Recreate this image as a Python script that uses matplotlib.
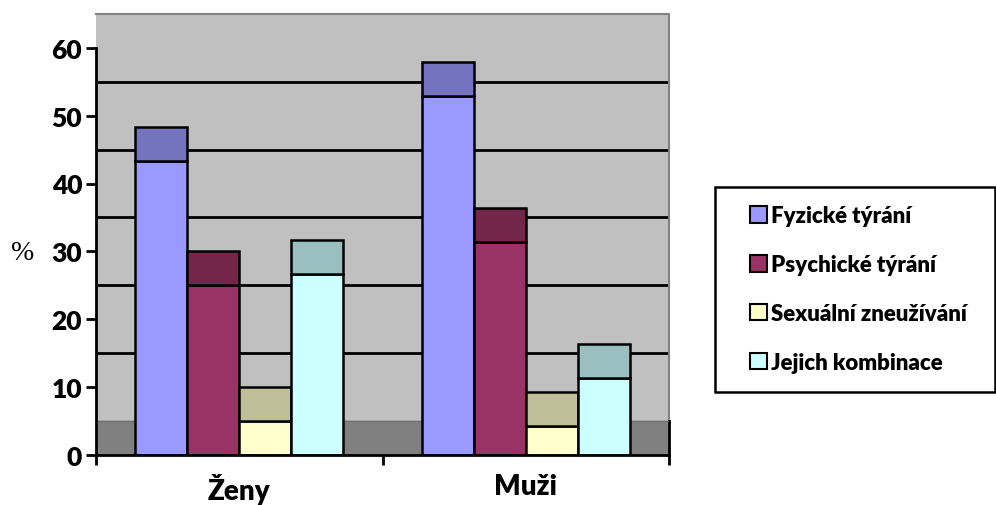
import matplotlib
matplotlib.use("Agg")
import matplotlib.pyplot as plt
from matplotlib.patches import Patch, Rectangle

# data (front face heights, %)
categories = ["Ženy", "Muži"]
series = ["Fyzické týrání", "Psychické týrání", "Sexuální zneužívání", "Jejich kombinace"]
fyzicke = [43.3, 52.9]
psychicke = [25.0, 31.4]
sexualni = [5.0, 4.2]
kombinace = [26.7, 11.3]
values = [fyzicke, psychicke, sexualni, kombinace]

front_colors = ["#9999FF", "#993366", "#FFFFCC", "#CCFFFF"]
top_colors = ["#7373BF", "#732649", "#BFBF99", "#99BFBF"]

depth = 5        # apparent depth of the 3D columns in axis units
bar_w = 0.1815

plt.rcParams["font.family"] = ["Lato", "DejaVu Sans"]
plt.rcParams["font.weight"] = "heavy"

fig = plt.figure(figsize=(9.96, 5.06), dpi=100)
W, H = 996, 506
x0, x1, y0, ytop = 96, 669, 455.7, 15
ax = fig.add_axes([x0 / W, 1 - y0 / H, (x1 - x0) / W, (y0 - ytop) / H])

ax.set_xlim(-0.5, 1.5)
ax.set_ylim(0, 65)

# back wall and floor
ax.axhspan(depth, 65, color="#C0C0C0", zorder=0)
ax.axhspan(0, depth, color="#808080", zorder=0)
ax.hlines(range(15, 60, 10), -0.5, 1.5, colors="black", lw=2, zorder=1)
ax.plot([-0.5, 1.5, 1.5], [65, 65, depth], color="#808080", lw=1.5, zorder=1, clip_on=False)
ax.plot([1.5, 1.5], [0, depth], color="black", lw=2, zorder=1, clip_on=False)
ax.axhline(depth, color="#707070", lw=1, zorder=1)

for i, vals in enumerate(values):
    xs = [c + (i - 1.5) * bar_w for c in range(len(categories))]
    ax.bar(xs, vals, width=bar_w, color=front_colors[i], edgecolor="black",
           linewidth=1.8, zorder=3)
    ax.bar(xs, [depth] * len(vals), bottom=vals, width=bar_w, color=top_colors[i],
           edgecolor="black", linewidth=1.8, zorder=3)

for s in ["top", "right"]:
    ax.spines[s].set_visible(False)
ax.spines["left"].set_bounds(0, 60)
ax.spines["left"].set_linewidth(2)
ax.spines["bottom"].set_linewidth(2)
ax.spines["left"].set_zorder(4)
ax.spines["bottom"].set_zorder(4)

ax.set_yticks(range(0, 61, 10))
ax.tick_params(axis="y", length=7, width=2, pad=3, labelsize=19)
ax.set_xticks(range(len(categories)))
ax.set_xticklabels(categories, fontsize=20, fontweight="heavy")
ax.set_xticks([-0.5, 0.5, 1.5], minor=True)
ax.tick_params(axis="x", which="major", length=0, pad=13)
ax.tick_params(axis="x", which="minor", length=7, width=2, direction="out")
for t in ax.get_yticklabels():
    t.set_fontweight("heavy")

fig.text(23 / W, 1 - 253 / H, "%", family="Liberation Serif", fontweight="normal",
         fontsize=20, ha="center", va="center")

# legend frame drawn separately so it matches the reference box
fig.patches.append(Rectangle((715 / W, 1 - 393 / H), 280 / W, 205 / H,
                             transform=fig.transFigure, facecolor="white",
                             edgecolor="black", linewidth=1.8, zorder=0))
handles = [Patch(facecolor=c, edgecolor="black", linewidth=1.5) for c in front_colors]
leg = fig.legend(handles, series, loc="center left",
                 bbox_to_anchor=(750 / W, 1 - 290 / H),
                 fontsize=16, frameon=False,
                 handlelength=0.75, handleheight=0.75, handletextpad=0.2,
                 labelspacing=1.25, borderpad=0, borderaxespad=0)
for t in leg.get_texts():
    t.set_fontweight("heavy")

fig.savefig("out.png", dpi=100)
